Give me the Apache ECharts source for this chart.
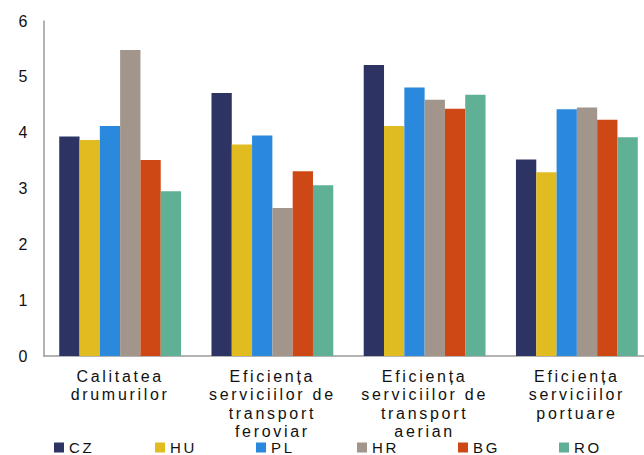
<!DOCTYPE html>
<html>
<head>
<meta charset="utf-8">
<script src="https://cdn.jsdelivr.net/npm/echarts@6/dist/echarts.min.js"></script>
<style>
  html, body { margin: 0; padding: 0; background: #fff; }
  #main { width: 644px; height: 455px; }
  #main text { letter-spacing: 2.7px; }
</style>
</head>
<body>
<div id="main"></div>
<script>
const categories = [
  "Calitatea\ndrumurilor",
  "Eficiența\nserviciilor de\ntransport\nferoviar",
  "Eficiența\nserviciilor de\ntransport\naerian",
  "Eficiența\nserviciilor\nportuare"
];
const seriesNames = ["CZ", "HU", "PL", "HR", "BG", "RO"];
const CZ = [3.93, 4.71, 5.21, 3.52];
const HU = [3.87, 3.79, 4.12, 3.29];
const PL = [4.12, 3.95, 4.81, 4.42];
const HR = [5.48, 2.65, 4.59, 4.45];
const BG = [3.51, 3.31, 4.43, 4.23];
const RO = [2.95, 3.06, 4.68, 3.92];
const values = [CZ, HU, PL, HR, BG, RO];
const colors = ["#2D3464", "#E1BC21", "#2A89DC", "#A1958C", "#CD4814", "#5FB094"];
const yTicks = { min: 0, max: 6, interval: 1 };

const chart = echarts.init(document.getElementById('main'), null, { renderer: 'svg' });
const font = 'Liberation Sans, Arial, sans-serif';
chart.setOption({
  animation: false,
  color: colors,
  grid: { left: 44, right: -9, top: 21, bottom: 99, containLabel: false, outerBoundsMode: 'none' },
  legend: seriesNames.map((n, i) => ({
    data: [n],
    left: 54 + 101 * i, top: 440, padding: 0,
    itemWidth: 10, itemHeight: 10, itemGap: 0,
    icon: 'rect',
    textStyle: { fontFamily: font, fontSize: 15, color: '#111' }
  })),
  xAxis: {
    type: 'category',
    data: categories,
    axisLine: { lineStyle: { color: '#9a9a9a', width: 1.5 } },
    axisTick: { show: false },
    axisLabel: {
      interval: 0, margin: 11,
      fontFamily: font, fontSize: 16, lineHeight: 18.5, color: '#111'
    }
  },
  yAxis: {
    type: 'value',
    min: yTicks.min, max: yTicks.max, interval: yTicks.interval,
    axisLine: { show: true, lineStyle: { color: '#9a9a9a', width: 1.5 } },
    axisTick: { show: false },
    splitLine: { show: false },
    axisLabel: { margin: 14, fontFamily: font, fontSize: 16, color: '#111' }
  },
  series: seriesNames.map((n, i) => ({
    name: n, type: 'bar', data: values[i],
    barGap: '0%', barCategoryGap: '20%'
  }))
});
</script>
</body>
</html>
